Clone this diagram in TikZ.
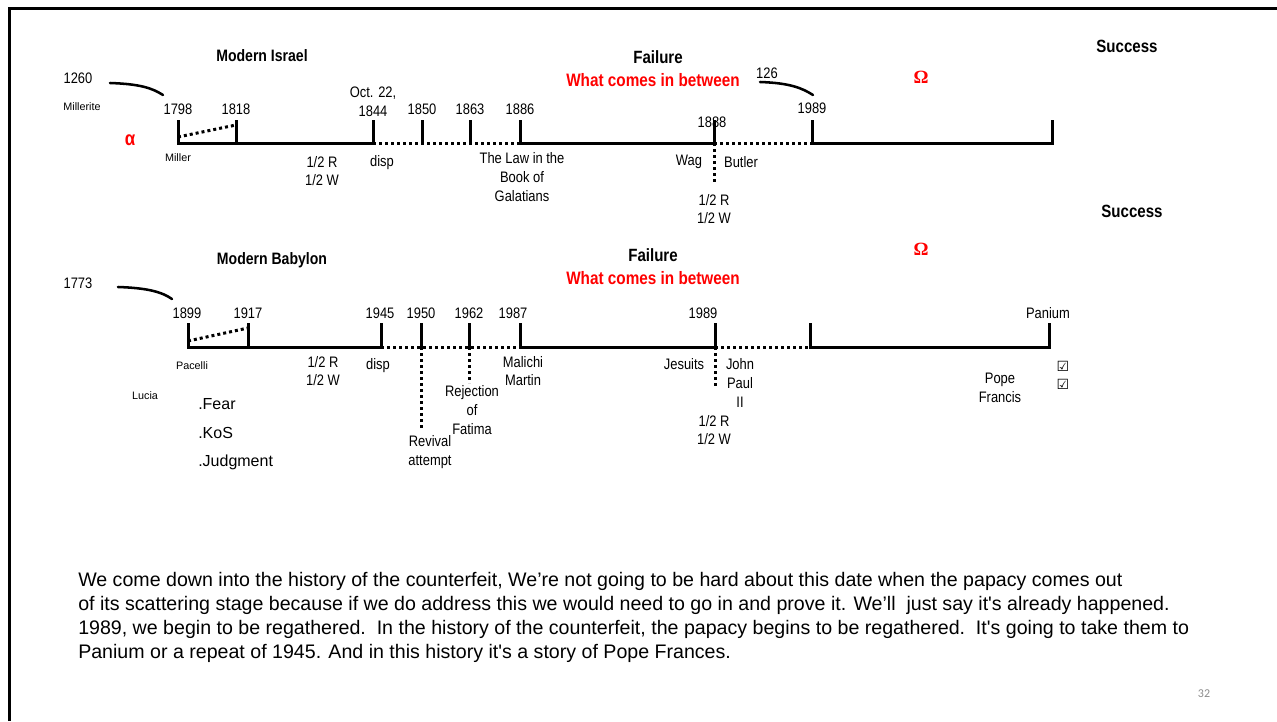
\documentclass[tikz,border=0pt]{standalone}
\usepackage{fontspec}
\usetikzlibrary{calc}
\setmainfont{Liberation Sans}[FakeStretch=0.85]
\newfontfamily\bodyfont{Liberation Sans}
\newfontfamily\omegafont{Liberation Serif}
\newfontfamily\symfont{DejaVu Sans}
\newfontfamily\pagefont{Carlito}
\definecolor{pagegray}{RGB}{140,140,140}
\begin{document}
\begin{tikzpicture}[x=0.75pt,y=-0.75pt,
  lbl/.style={font=\fontsize{11.4}{14}\selectfont, inner sep=0pt, align=center},
  sml/.style={font=\bodyfont\fontsize{8.1}{10}\selectfont, inner sep=0pt},
  ttl/.style={font=\bfseries\fontsize{13.3}{15}\selectfont, inner sep=0pt},
  mttl/.style={font=\bfseries\fontsize{12.4}{15}\selectfont, inner sep=0pt},
  redttl/.style={font=\bfseries\fontsize{13.5}{15}\selectfont, text=red, inner sep=0pt},
  greek/.style={font=\omegafont\bfseries\fontsize{14}{16}\selectfont, text=red, inner sep=0pt},
  bullet/.style={font=\bodyfont\fontsize{12}{14}\selectfont, anchor=west, inner sep=0pt},
  body/.style={font=\bodyfont\fontsize{14.7}{18}\selectfont, anchor=base west, inner sep=0pt},
  axis/.style={line width=2.25pt, line join=miter},
  dots/.style={line width=2.25pt, dash pattern=on 2.25pt off 2.25pt},
  hook/.style={line width=1.9pt, line cap=round}]
\useasboundingbox (0,0) rectangle (1277,721);
% frame
\draw[line width=2.25pt] (9,721) -- (9,8) -- (1277,8);

% ================= top timeline =================
\coordinate (i1798) at (178,143);
\coordinate (i1818) at (236,143);
\coordinate (i1844) at (373,143);
\coordinate (i1850) at (422,143);
\coordinate (i1863) at (470,143);
\coordinate (i1886) at (520,143);
\coordinate (i1888) at (714,143);
\coordinate (i1989) at (812,143);
\coordinate (iend)  at (1052,143);

\draw[axis] ($(i1798)+(0,-23)$) -- (i1798) -- (i1844) -- ++(0,-23);
\draw[axis] (i1818) -- ++(0,-23);
\draw[axis] (i1850) -- ++(0,-23);
\draw[axis] (i1863) -- ++(0,-23);
\draw[axis] ($(i1886)+(0,-23)$) -- (i1886) -- (i1888) -- ++(0,-23);
\draw[axis] ($(i1989)+(0,-23)$) -- (i1989) -- (iend) -- ++(0,-23);
\draw[dots] (i1844) -- (i1886);
\draw[dots] (i1888) -- (i1989);
\draw[dots] ($(i1798)+(0,-6)$) -- ($(i1818)+(0,-18)$);
\draw[dots] (i1888) -- ++(0,40);

\node[mttl] (israel) at (262,56) {Modern Israel};
\node[ttl] (fail1) at (658,57) {Failure};
\node[redttl] (between1) at (653,80) {What comes in between};
\node[ttl] (succ1) at (1127,46) {Success};
\node[greek] (omega1) at (921,77) {Ω};
\node[font=\bfseries\fontsize{15}{16}\selectfont, text=red, inner sep=0pt] (alpha) at (130,140) {α};

\node[lbl] (l1260) at (78,78) {1260};
\node[sml] (millerite) at (82,107) {Millerite};
\draw[hook] (110,83) .. controls (140,84) and (152,88) .. (163,95);
\node[lbl] (l1798) at (178,109) {1798};
\node[lbl] (l1818) at (236,109) {1818};
\node[lbl] (l1844) at (373,102) {Oct. 22,\\1844};
\node[lbl] (l1850) at (422,109) {1850};
\node[lbl] (l1863) at (470,109) {1863};
\node[lbl] (l1886) at (520,109) {1886};
\node[lbl] (l1888) at (712,122) {1888};
\node[lbl] (l126) at (767,73) {126};
\draw[hook] (760,82) .. controls (790,83) and (802,88) .. (813,95);
\node[lbl] (l1989a) at (812,108) {1989};

\node[sml] (miller) at (178,158) {Miller};
\node[lbl] (halfa) at (322,171) {1/2 R\\1/2 W};
\node[lbl] (dispa) at (382,163) {disp};
\node[lbl] (law) at (522,177) {The Law in the\\Book of\\Galatians};
\node[lbl] (wag) at (689,162) {Wag};
\node[lbl] (butler) at (741,162) {Butler};
\node[lbl] (halfb) at (714,209) {1/2 R\\1/2 W};

% ================= bottom timeline =================
\node[ttl] (succ2) at (1132,211) {Success};
\node[mttl] (babylon) at (272,260) {Modern Babylon};
\node[ttl] (fail2) at (653,255) {Failure};
\node[redttl] (between2) at (653,278) {What comes in between};
\node[greek] (omega2) at (921,249) {Ω};

\coordinate (b1899) at (188,347);
\coordinate (b1917) at (248,347);
\coordinate (b1945) at (381,347);
\coordinate (b1950) at (421,347);
\coordinate (b1962) at (469,347);
\coordinate (b1987) at (520,347);
\coordinate (b1989) at (715,347);
\coordinate (bmid)  at (810,347);
\coordinate (bend)  at (1049,347);

\draw[axis] ($(b1899)+(0,-24)$) -- (b1899) -- (b1945) -- ++(0,-24);
\draw[axis] (b1917) -- ++(0,-24);
\draw[axis] (b1950) -- ++(0,-24);
\draw[axis] (b1962) -- ++(0,-24);
\draw[axis] ($(b1987)+(0,-24)$) -- (b1987) -- (b1989) -- ++(0,-24);
\draw[axis] ($(bmid)+(0,-24)$) -- (bmid) -- (bend) -- ++(0,-24);
\draw[dots] (b1945) -- (b1987);
\draw[dots] (b1989) -- (bmid);
\draw[dots] ($(b1899)+(0,-6)$) -- ($(b1917)+(0,-19)$);
\draw[dots] (b1950) -- ++(0,81);
\draw[dots] (b1962) -- ++(0,36);
\draw[dots] (b1989) -- ++(0,40);

\node[lbl] (l1773) at (78,283) {1773};
\draw[hook] (118,287) .. controls (148,288) and (162,292) .. (172,299);
\node[lbl] (l1899) at (187,313) {1899};
\node[lbl] (l1917) at (248,313) {1917};
\node[lbl] (l1945) at (380,313) {1945};
\node[lbl] (l1950) at (421,313) {1950};
\node[lbl] (l1962) at (469,313) {1962};
\node[lbl] (l1987) at (513,313) {1987};
\node[lbl] (l1989b) at (703,313) {1989};
\node[lbl] (panium) at (1048,313) {Panium};

\node[sml] (pacelli) at (192,366) {Pacelli};
\node[sml] (lucia) at (145,396) {Lucia};
\node[bullet] (fear) at (198,404) {.Fear};
\node[bullet] (kos) at (198,433) {.KoS};
\node[bullet] (judg) at (198,462) {.Judgment};
\node[lbl] (halfc) at (323,371) {1/2 R\\1/2 W};
\node[lbl] (dispb) at (378,366) {disp};
\node[lbl] (revival) at (430,452) {Revival\\attempt};
\node[lbl] (fatima) at (472,410) {Rejection\\of\\Fatima};
\node[lbl] (malichi) at (523,371) {Malichi\\Martin};
\node[lbl] (jesuits) at (684,364) {Jesuits};
\node[lbl] (jp) at (740,383) {John\\Paul\\II};
\node[lbl] (halfd) at (714,430) {1/2 R\\1/2 W};
\node[lbl] (pope) at (1000,388) {Pope\\Francis};
\node[font=\symfont\fontsize{10.5}{13.5}\selectfont, inner sep=0pt, align=center] (checks) at (1063,375) {☑\\☑};

% ================= body text =================
\node[body] (body1) at (78,586) {We come down into the history of the counterfeit, We’re not going to be hard about this date when the papacy comes out};
\node[body] (body2) at (78,610) {of its scattering stage because if we do address this we would need to go in and prove it. We’ll\ \ just say it's already happened.};
\node[body] (body3) at (78,634) {1989, we begin to be regathered.\ \ In the history of the counterfeit, the papacy begins to be regathered.\ \ It's going to take them to};
\node[body] (body4) at (78,658) {Panium or a repeat of 1945. And in this history it's a story of Pope Frances.};
\node[font=\pagefont\fontsize{9}{10}\selectfont, text=pagegray, inner sep=0pt] (pagenum) at (1204,694) {32};
\end{tikzpicture}
\end{document}
